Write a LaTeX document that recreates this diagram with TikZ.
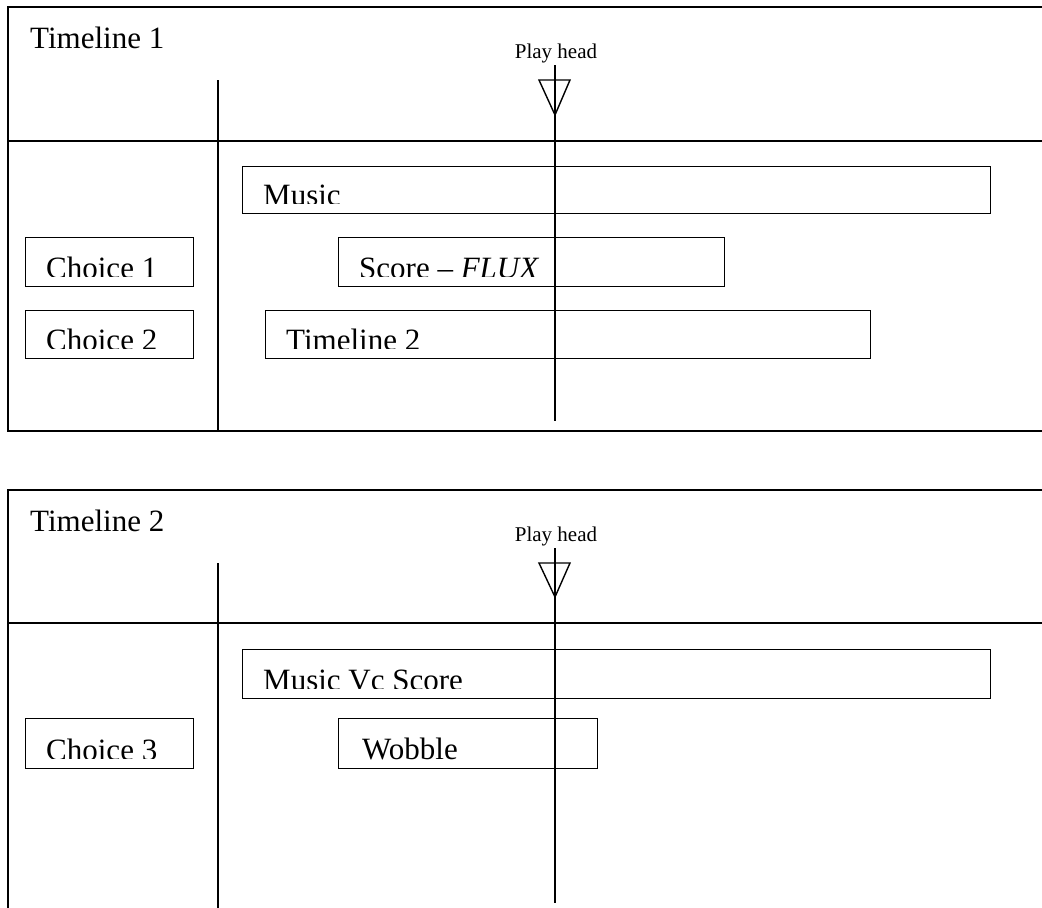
\documentclass[tikz,border=0pt]{standalone}
\usepackage{fontspec}
\setmainfont{Liberation Serif}
\begin{document}
\begin{tikzpicture}[x=1pt,y=-1pt,
  frameline/.style={line width=1.6pt, black},
  clip box/.style={draw, line width=1.4pt, inner sep=0pt, anchor=north west},
  cliptext/.style={anchor=base west, inner sep=0pt, font=\fontsize{31}{36}\selectfont},
  title/.style={anchor=base west, inner sep=0pt, font=\fontsize{31}{36}\selectfont},
  headlabel/.style={anchor=base, inner sep=0pt, font=\fontsize{21}{24}\selectfont},
  headline/.style={line width=1.4pt}]
\useasboundingbox (0,0) rectangle (1042,908);

% ---------- Timeline 1 ----------
\draw[frameline] (1042,7) -- (8,7) -- (8,431) -- (1042,431);
\draw[frameline] (8,141) -- (1042,141);
\coordinate (t1div) at (218,80);
\coordinate (t1divend) at (218,431);
\draw[frameline] (t1div) -- (t1divend);
\node[title] (t1title) at (30,48) {Timeline 1};

\node[clip box, minimum width=748pt, minimum height=47pt] (t1music) at (242,166) {};
\node[clip box, minimum width=168pt, minimum height=49pt] (t1ch1) at (25,237) {};
\node[clip box, minimum width=386pt, minimum height=49pt] (t1score) at (338,237) {};
\node[clip box, minimum width=168pt, minimum height=48pt] (t1ch2) at (25,310) {};
\node[clip box, minimum width=605pt, minimum height=48pt] (t1tl2) at (265,310) {};

% labels cut off just above their baseline
\foreach \b/\t in {t1music/Music, t1ch1/Choice 1, t1score/{Score -- \textit{FLUX}}, t1ch2/Choice 2, t1tl2/Timeline 2}{
  \begin{scope}
    \clip (\b.north west) rectangle ([yshift=10.5pt]\b.south east);
    \node[cliptext] (\b-text) at ([xshift=21pt,yshift=9pt]\b.south west) {\t};
  \end{scope}
}

\node[headlabel] (t1headlbl) at (556,58) {Play head};
\coordinate (t1stick) at (555,65);
\coordinate (t1tip) at (555,115);
\coordinate (t1end) at (555,421);
\draw[headline] (539,80) -- (570,80) -- (t1tip) -- cycle;
\draw[headline] (t1stick) -- (t1end);

% ---------- Timeline 2 ----------
\begin{scope}[yshift=-483pt]
\draw[frameline] (1042,7) -- (8,7) -- (8,430);
\draw[frameline] (8,140) -- (1042,140);
\coordinate (t2div) at (218,80);
\coordinate (t2divend) at (218,430);
\draw[frameline] (t2div) -- (t2divend);
\node[title] (t2title) at (30,48) {Timeline 2};

\node[clip box, minimum width=748pt, minimum height=49pt] (t2music) at (242,166) {};
\node[clip box, minimum width=168pt, minimum height=50pt] (t2ch3) at (25,235) {};
\node[clip box, minimum width=259pt, minimum height=50pt] (t2wob) at (338,235) {};

\foreach \b/\t in {t2music/Music Vc Score, t2ch3/Choice 3}{
  \begin{scope}
    \clip (\b.north west) rectangle ([yshift=10.5pt]\b.south east);
    \node[cliptext] (\b-text) at ([xshift=21pt,yshift=9pt]\b.south west) {\t};
  \end{scope}
}
\node[cliptext] (t2wob-text) at ([xshift=24pt,yshift=10pt]t2wob.south west) {Wobble};

\node[headlabel] (t2headlbl) at (556,58) {Play head};
\coordinate (t2stick) at (555,65);
\coordinate (t2tip) at (555,114);
\coordinate (t2end) at (555,420);
\draw[headline] (539,80) -- (570,80) -- (t2tip) -- cycle;
\draw[headline] (t2stick) -- (t2end);
\end{scope}
\end{tikzpicture}
\end{document}
